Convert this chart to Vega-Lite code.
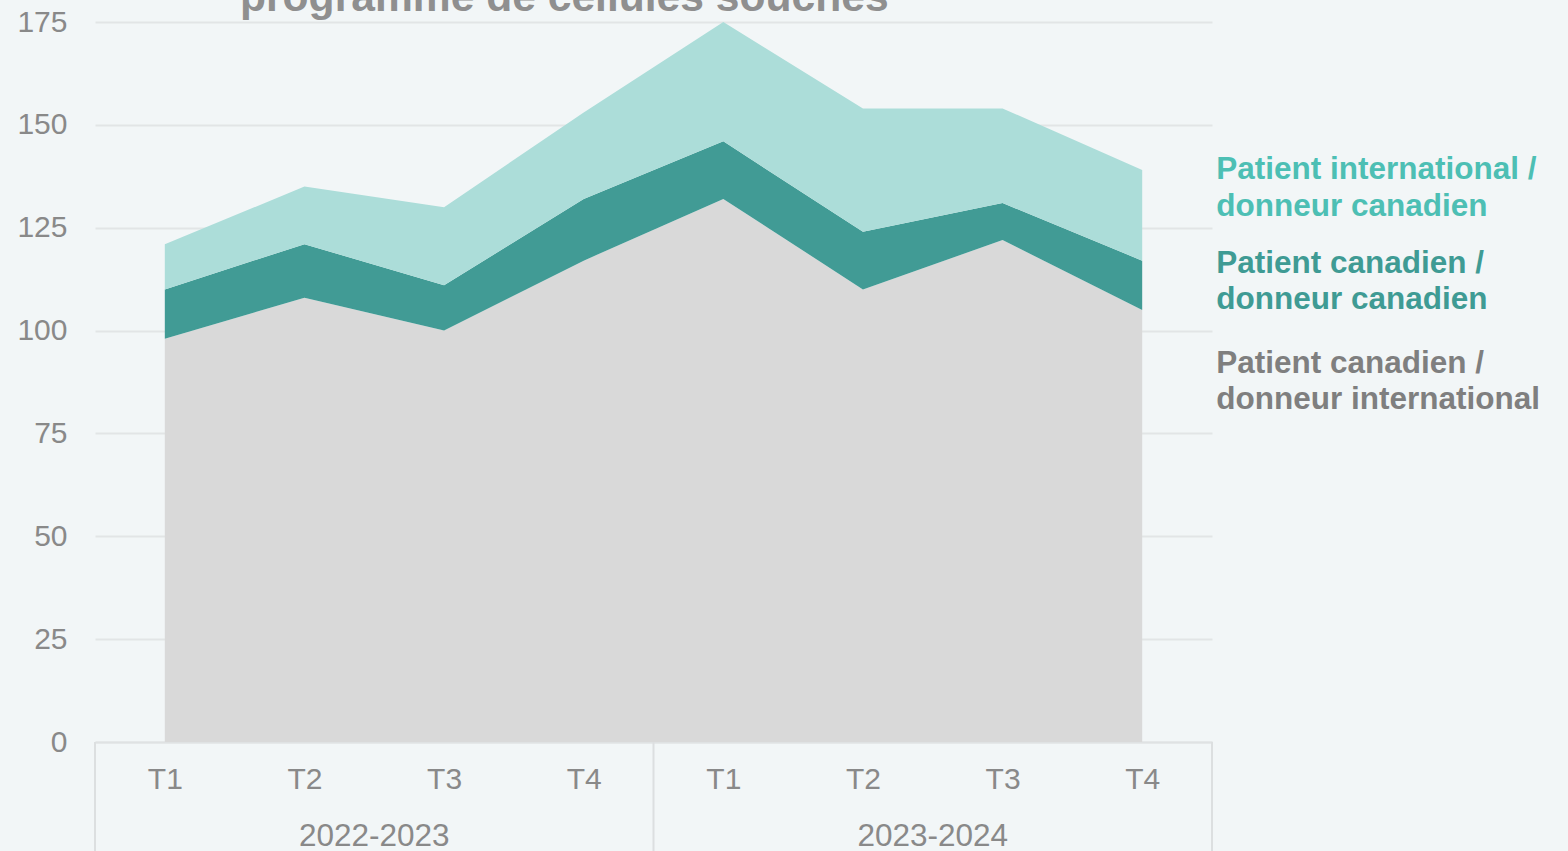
{
  "$schema": "https://vega.github.io/schema/vega-lite/v6.json",
  "width": 1117,
  "height": 720,
  "autosize": {"type": "none"},
  "padding": {"left": 95, "top": 22, "right": 356, "bottom": 109},
  "background": "#f2f6f7",
  "config": {"view": {"stroke": null}, "font": "Liberation Sans"},
  "title": {
    "text": "programme de cellules souches",
    "anchor": "start",
    "frame": "group",
    "dx": 145,
    "dy": 57,
    "offset": 10,
    "baseline": "alphabetic",
    "fontSize": 42.6,
    "fontWeight": "bold",
    "color": "#8f8f8f",
    "font": "Liberation Sans"
  },
  "datasets": {
    "main": [
      {"q": 0, "series": "Patient canadien / donneur international", "rank": 1, "value": 98},
      {"q": 1, "series": "Patient canadien / donneur international", "rank": 1, "value": 108},
      {"q": 2, "series": "Patient canadien / donneur international", "rank": 1, "value": 100},
      {"q": 3, "series": "Patient canadien / donneur international", "rank": 1, "value": 117},
      {"q": 4, "series": "Patient canadien / donneur international", "rank": 1, "value": 132},
      {"q": 5, "series": "Patient canadien / donneur international", "rank": 1, "value": 110},
      {"q": 6, "series": "Patient canadien / donneur international", "rank": 1, "value": 122},
      {"q": 7, "series": "Patient canadien / donneur international", "rank": 1, "value": 105},
      {"q": 0, "series": "Patient canadien / donneur canadien", "rank": 2, "value": 12},
      {"q": 1, "series": "Patient canadien / donneur canadien", "rank": 2, "value": 13},
      {"q": 2, "series": "Patient canadien / donneur canadien", "rank": 2, "value": 11},
      {"q": 3, "series": "Patient canadien / donneur canadien", "rank": 2, "value": 15},
      {"q": 4, "series": "Patient canadien / donneur canadien", "rank": 2, "value": 14},
      {"q": 5, "series": "Patient canadien / donneur canadien", "rank": 2, "value": 14},
      {"q": 6, "series": "Patient canadien / donneur canadien", "rank": 2, "value": 9},
      {"q": 7, "series": "Patient canadien / donneur canadien", "rank": 2, "value": 12},
      {"q": 0, "series": "Patient international / donneur canadien", "rank": 3, "value": 11},
      {"q": 1, "series": "Patient international / donneur canadien", "rank": 3, "value": 14},
      {"q": 2, "series": "Patient international / donneur canadien", "rank": 3, "value": 19},
      {"q": 3, "series": "Patient international / donneur canadien", "rank": 3, "value": 21},
      {"q": 4, "series": "Patient international / donneur canadien", "rank": 3, "value": 29},
      {"q": 5, "series": "Patient international / donneur canadien", "rank": 3, "value": 30},
      {"q": 6, "series": "Patient international / donneur canadien", "rank": 3, "value": 23},
      {"q": 7, "series": "Patient international / donneur canadien", "rank": 3, "value": 22}
    ],
    "seps": [{"q": -0.5}, {"q": 3.5}, {"q": 7.5}],
    "years": [{"q": 1.5, "year": "2022-2023"}, {"q": 5.5, "year": "2023-2024"}],
    "labels": [
      {"series": "Patient international / donneur canadien", "label": "Patient international /\ndonneur canadien", "q": 7.53, "value": 136.8},
      {"series": "Patient canadien / donneur canadien", "label": "Patient canadien /\ndonneur canadien", "q": 7.53, "value": 114.0},
      {"series": "Patient canadien / donneur international", "label": "Patient canadien /\ndonneur international", "q": 7.53, "value": 89.7}
    ]
  },
  "layer": [
    {
      "data": {"name": "main"},
      "mark": {"type": "area", "interpolate": "linear"},
      "encoding": {
        "x": {
          "field": "q",
          "type": "quantitative",
          "scale": {"domain": [-0.5, 7.5], "nice": false, "zero": false},
          "axis": {
            "title": null,
            "values": [0, 1, 2, 3, 4, 5, 6, 7],
            "labelExpr": "'T' + (datum.value % 4 + 1)",
            "ticks": false,
            "grid": false,
            "domain": true,
            "domainColor": "#dfe2e3",
            "domainWidth": 2,
            "labelFontSize": 30,
            "labelFont": "Liberation Sans",
            "labelColor": "#898989",
            "labelPadding": 22,
            "labelFlush": false,
            "labelOverlap": false
          }
        },
        "y": {
          "field": "value",
          "type": "quantitative",
          "stack": "zero",
          "scale": {"domain": [0, 175], "nice": false},
          "axis": {
            "title": null,
            "values": [0, 25, 50, 75, 100, 125, 150, 175],
            "grid": true,
            "gridColor": "#e2e5e6",
            "gridWidth": 2,
            "domain": false,
            "ticks": false,
            "labelFontSize": 30,
            "labelFont": "Liberation Sans",
            "labelColor": "#898989",
            "labelPadding": 28
          }
        },
        "fill": {
          "field": "series",
          "type": "nominal",
          "scale": {
            "domain": ["Patient canadien / donneur international", "Patient canadien / donneur canadien", "Patient international / donneur canadien"],
            "range": ["#d9d9d9", "#419b95", "#acddd9"]
          },
          "legend": null
        },
        "order": {"field": "rank", "type": "quantitative"}
      }
    },
    {
      "data": {"name": "seps"},
      "mark": {"type": "rule", "color": "#dcdfe0", "strokeWidth": 2},
      "encoding": {
        "x": {"field": "q", "type": "quantitative"},
        "y": {"datum": 0},
        "y2": {"datum": -27}
      }
    },
    {
      "data": {"name": "years"},
      "mark": {"type": "text", "fontSize": 31.5, "font": "Liberation Sans", "color": "#898989", "baseline": "middle", "align": "center"},
      "encoding": {
        "x": {"field": "q", "type": "quantitative"},
        "y": {"datum": -23},
        "text": {"field": "year", "type": "nominal"}
      }
    },
    {
      "data": {"name": "labels"},
      "mark": {"type": "text", "fontSize": 31.5, "font": "Liberation Sans", "fontWeight": "bold", "align": "left", "baseline": "alphabetic", "lineBreak": "\n", "lineHeight": 36.5},
      "encoding": {
        "x": {"field": "q", "type": "quantitative"},
        "y": {"field": "value", "type": "quantitative"},
        "text": {"field": "label", "type": "nominal"},
        "color": {
          "field": "series",
          "type": "nominal",
          "scale": {
            "domain": ["Patient international / donneur canadien", "Patient canadien / donneur canadien", "Patient canadien / donneur international"],
            "range": ["#4dbfb4", "#3f9b94", "#7f7f7f"]
          },
          "legend": null
        }
      }
    }
  ]
}
